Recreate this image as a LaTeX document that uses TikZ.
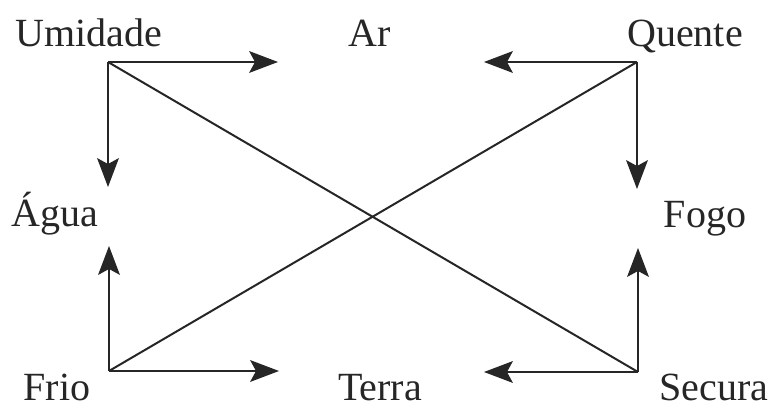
\documentclass[tikz,border=0pt]{standalone}
\usepackage{fontspec}
\setmainfont{Liberation Serif}
\begin{document}
\begin{tikzpicture}[x=1pt,y=-1pt,
  lbl/.style={font=\fontsize{40}{42}\selectfont, anchor=base, inner sep=0pt, text=black!85},
  ln/.style={line width=2pt, draw=black!85},
  arr/.style={ln, shorten >=16pt},
  arrowtip/.pic={\fill[black!85] (0,0) -- (-29,-11) -- (-23,0) -- (-29,11) -- cycle;}]
\useasboundingbox (0,0) rectangle (772,409);
% labels
\node[lbl] (umidade) at (89,47) {Umidade};
\node[lbl] (ar) at (370,47) {Ar};
\node[lbl] (quente) at (685,47) {Quente};
\node[lbl] (agua) at (55,226) {Água};
\node[lbl] (fogo) at (705,228) {Fogo};
\node[lbl] (frio) at (57,400) {Frio};
\node[lbl] (terra) at (380,400) {Terra};
\node[lbl] (secura) at (714,400) {Secura};
% corners
\coordinate (cU) at (108,62);
\coordinate (cQ) at (637,62);
\coordinate (cF) at (109,371);
\coordinate (cS) at (638,372);
% arrow tips
\coordinate (tUA) at (278,62);
\coordinate (tUG) at (108,187);
\coordinate (tQA) at (484,62);
\coordinate (tQF) at (637,189);
\coordinate (tFG) at (109,246);
\coordinate (tFT) at (279,371);
\coordinate (tST) at (484,372);
\coordinate (tSF) at (638,248);
% diagonals
\draw[ln] (cU) -- (cS);
\draw[ln] (cQ) -- (cF);
% arrows
\draw[arr] (cU) -- (tUA);
\draw[arr] (cU) -- (tUG);
\draw[arr] (cQ) -- (tQA);
\draw[arr] (cQ) -- (tQF);
\draw[arr] (cF) -- (tFG);
\draw[arr] (cF) -- (tFT);
\draw[arr] (cS) -- (tST);
\draw[arr] (cS) -- (tSF);
% arrowheads
\pic at (tUA) {arrowtip};
\pic[rotate=-90] at (tUG) {arrowtip};
\pic[rotate=180] at (tQA) {arrowtip};
\pic[rotate=-90] at (tQF) {arrowtip};
\pic[rotate=90] at (tFG) {arrowtip};
\pic at (tFT) {arrowtip};
\pic[rotate=180] at (tST) {arrowtip};
\pic[rotate=90] at (tSF) {arrowtip};
\end{tikzpicture}
\end{document}
